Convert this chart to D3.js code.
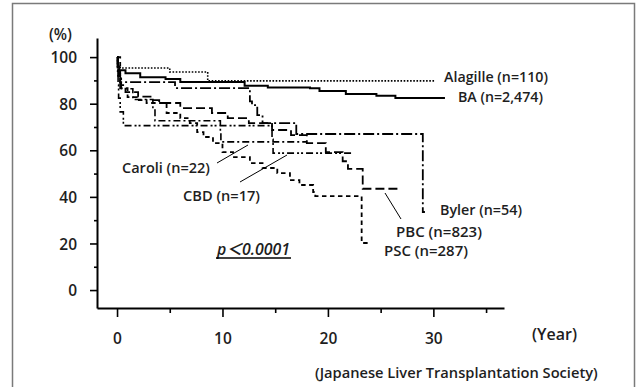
<!DOCTYPE html>
<html>
<head>
<meta charset="utf-8">
<script src="https://cdn.jsdelivr.net/npm/d3@7"></script>
<style>
  html, body { margin: 0; padding: 0; background: #fff; }
  svg { display: block; }
  text { font-family: "Open Sans", "Noto Sans CJK JP", sans-serif; font-weight: 600; fill: #1e1e1e; }
</style>
</head>
<body>
<svg id="chart" width="637" height="387"></svg>
<script>
// Patient survival after liver transplantation by cholestatic disease (Kaplan-Meier steps: [year, %])
const alagille = [[0,100],[0.05,96],[0.3,95.3],[5.0,93.6],[8.6,89.8],[30.1,89.8]];
const ba = [[0,100],[0.05,96],[0.2,94.4],[0.8,93.1],[2.2,91.4],[4.6,90.6],[6.0,89.3],[12.1,87.7],
            [14.3,87.0],[18.3,86.6],[19.2,85.5],[21.7,84.2],[24.6,83.4],[26.4,82.4],[31.1,82.4]];
const byler = [[0,100],[0.1,94.4],[0.3,89.3],[5.5,86.7],[12.6,81.0],[12.8,79.4],[13.3,75.1],
               [13.8,71.7],[17.0,67.0],[29.0,33.5],[29.2,33.5]];
const pbc = [[0,100],[0.1,92],[0.3,88],[0.8,85],[2.0,83],[3.4,81.5],[4.0,80.3],[6.0,78.1],[9.0,76.0],
             [10.5,73.8],[12.5,71.7],[14.7,68.7],[16.5,66.5],[18.0,63.1],[19.8,59.2],[21.4,55.3],
             [21.9,52.0],[23.3,43.5],[26.6,43.5]];
const psc = [[0,100],[0.3,86.7],[1.0,82.8],[1.9,81.5],[2.8,80.3],[4.7,76.0],[6.0,73.8],[6.9,71.7],
             [7.6,67.8],[8.2,65.7],[9.1,63.1],[10.0,59.2],[11.0,57.1],[12.6,54.5],[13.8,52.4],
             [15.2,50.2],[16.4,47.2],[17.3,45.1],[18.6,42.1],[18.8,40.3],[23.2,20.2],[24.0,20.2]];
const caroli = [[0,100],[0.1,95.5],[0.2,90.9],[0.4,86.4],[1.5,81.8],[3.4,77.3],[3.6,72.7],
                [9.8,68.2],[9.85,63.6],[18.0,63.6]];
const cbd = [[0,100],[0.05,94.1],[0.1,88.2],[0.15,82.4],[0.3,76.5],[0.6,70.6],[14.7,64.7],
             [14.8,58.8],[22.4,58.8]];

const seriesNames = ["Alagille (n=110)","BA (n=2,474)","Byler (n=54)","PBC (n=823)",
                     "PSC (n=287)","Caroli (n=22)","CBD (n=17)"];
const yTicks = [0, 20, 40, 60, 80, 100];
const yMinorTicks = [10, 30, 50, 70, 90];
const xTicks = [0, 10, 20, 30];
const xMinorTicks = [5, 15, 25, 35];

const svg = d3.select("#chart");

// scale a text element's font size so that it spans the given width
function fitWidth(sel, width) {
  sel.each(function () {
    const fs = parseFloat(this.getAttribute("font-size"));
    const w = this.getComputedTextLength();
    if (w > 0) this.setAttribute("font-size", (fs * width / w).toFixed(2));
  });
}

// outer frame
svg.append("rect").attr("x", 12.5).attr("y", 3.5).attr("width", 622).attr("height", 400)
  .attr("fill", "none").attr("stroke", "#7a7a7a").attr("stroke-width", 1.5);

const x = d3.scaleLinear().domain([-1.9, 36.7]).range([97, 504]);
const y = d3.scaleLinear().domain([-7.7, 108.2]).range([308, 38]);

// axes
const xAxis = svg.append("g").attr("transform", "translate(0,308)")
  .call(d3.axisBottom(x).tickValues(xTicks).tickSize(9).tickSizeOuter(0).tickFormat(d3.format("d")));
svg.append("g").attr("transform", "translate(0,308)")
  .call(d3.axisBottom(x).tickValues(xMinorTicks).tickSize(5).tickSizeOuter(0).tickFormat(""))
  .select(".domain").remove();
const yAxis = svg.append("g").attr("transform", "translate(97,0)")
  .call(d3.axisLeft(y).tickValues(yTicks).tickSize(7).tickSizeOuter(0).tickFormat(d3.format("d")));
svg.append("g").attr("transform", "translate(97,0)")
  .call(d3.axisLeft(y).tickValues(yMinorTicks).tickSize(3).tickSizeOuter(0).tickFormat(""))
  .select(".domain").remove();

svg.selectAll(".domain").attr("stroke", "#000").attr("stroke-width", 2);
svg.selectAll(".tick line").attr("stroke", "#000").attr("stroke-width", 1.6);
svg.selectAll("g").attr("font-family", null);
xAxis.selectAll(".tick text").attr("y", 25).attr("dy", "0.71em").attr("font-size", 15.5)
  .style("font-family", "'Open Sans', sans-serif").style("font-weight", 600).attr("fill", "#1e1e1e");
yAxis.selectAll(".tick text").attr("x", -20).attr("dy", "0.36em").attr("font-size", 15.5)
  .style("font-family", "'Open Sans', sans-serif").style("font-weight", 600).attr("fill", "#1e1e1e");

// survival curves
const line = d3.line().x(d => x(d[0])).y(d => y(d[1])).curve(d3.curveStepAfter);
const curves = [
  { data: alagille, dash: "1.6,1.6", w: 1.6 },
  { data: ba, dash: null, w: 2 },
  { data: byler, dash: "11,3,2,3", w: 1.8 },
  { data: pbc, dash: "9,4", w: 1.8 },
  { data: psc, dash: "4.5,3.5", w: 1.8 },
  { data: caroli, dash: "7,3,2,3", w: 1.6 },
  { data: cbd, dash: "7,3,2,2,2,3", w: 1.6 }
];
svg.append("g").selectAll("path").data(curves).join("path")
  .attr("d", d => line(d.data))
  .attr("fill", "none").attr("stroke", "#000")
  .attr("stroke-width", d => d.w)
  .attr("stroke-dasharray", d => d.dash);

// series labels: [left x, baseline y, width]
const labelPos = [[444, 82, 104], [458, 102, 85], [440, 215, 82], [396, 237, 86],
                  [384, 256, 84], [122, 173, 88], [183, 201, 77]];
svg.append("g").selectAll("text").data(seriesNames).join("text")
  .attr("x", (d, i) => labelPos[i][0]).attr("y", (d, i) => labelPos[i][1])
  .attr("font-size", 14.5).text(d => d)
  .each(function (d, i) { fitWidth(d3.select(this), labelPos[i][2]); });

// leader lines
const leaders = [[217, 163, 248, 145], [240, 182, 287, 155], [385, 193, 401, 219]];
svg.append("g").selectAll("line").data(leaders).join("line")
  .attr("x1", d => d[0]).attr("y1", d => d[1]).attr("x2", d => d[2]).attr("y2", d => d[3])
  .attr("stroke", "#000").attr("stroke-width", 1);

// axis captions
svg.append("text").attr("x", 49).attr("y", 40).attr("font-size", 15).text("(%)").call(fitWidth, 23);
svg.append("text").attr("x", 532).attr("y", 340).attr("font-size", 15).text("(Year)")
  .call(fitWidth, 45);
svg.append("text").attr("x", 315).attr("y", 378).attr("font-size", 14.5)
  .text("(Japanese Liver Transplantation Society)").call(fitWidth, 283);

// significance
svg.append("text").attr("x", 217).attr("y", 255).attr("font-size", 14.5)
  .attr("font-style", "italic").text("p＜0.0001").call(fitWidth, 73);
svg.append("line").attr("x1", 216).attr("x2", 291).attr("y1", 258).attr("y2", 258)
  .attr("stroke", "#000").attr("stroke-width", 1.3);
</script>
</body>
</html>
